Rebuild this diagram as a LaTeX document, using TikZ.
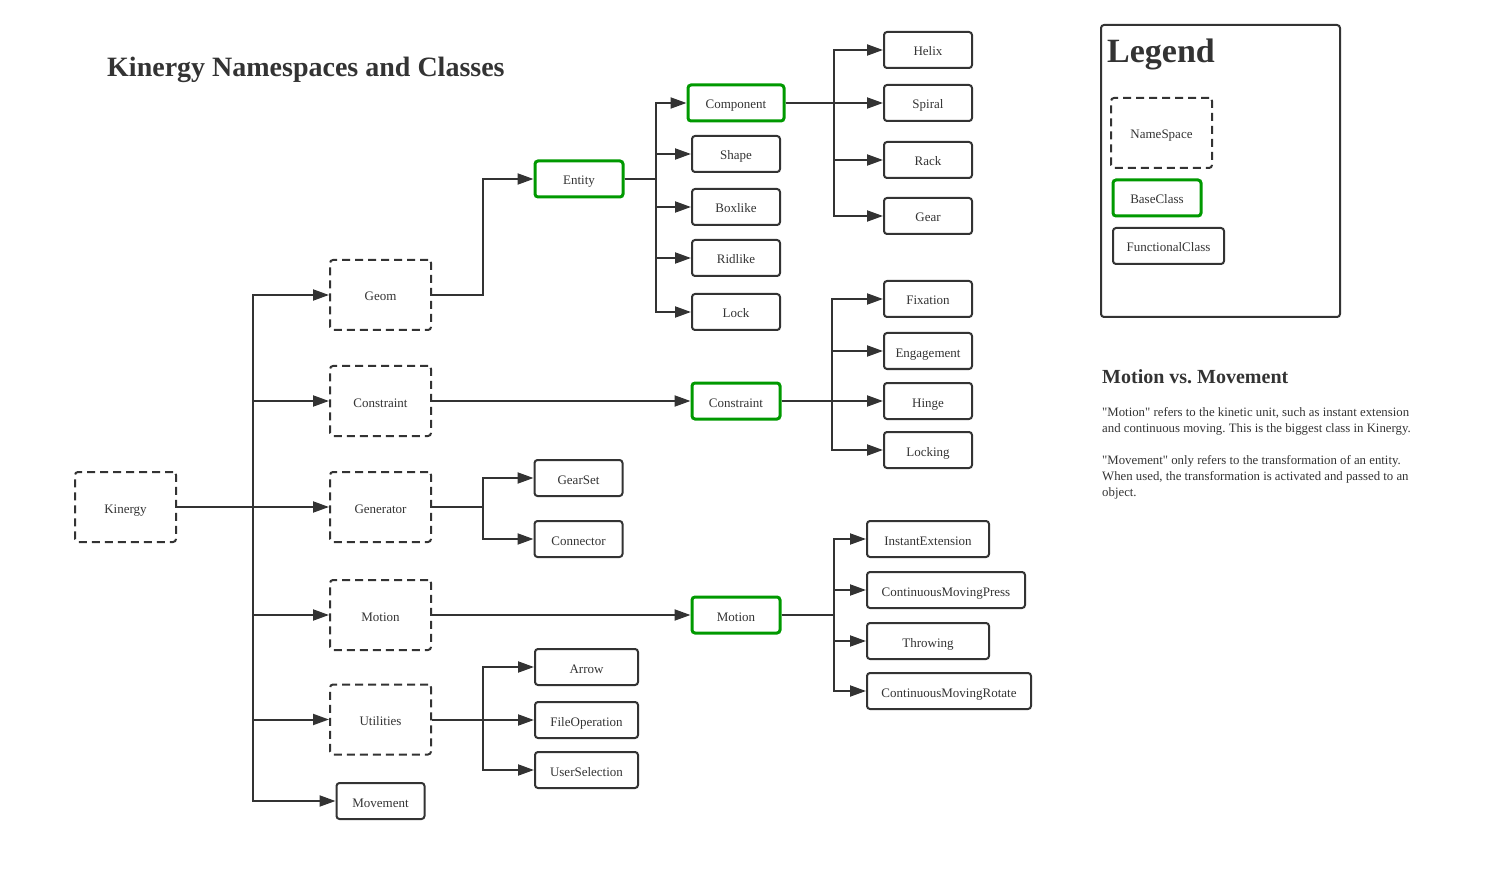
\documentclass[tikz,border=0pt]{standalone}
\usepackage{fontspec}
\setmainfont{Liberation Serif}
\newfontfamily\notefont{Liberation Serif}
\usepackage{tikz}
\usetikzlibrary{arrows.meta}
\usetikzlibrary{positioning,calc}
\definecolor{uidark}{RGB}{51,51,51}
\definecolor{uigreen}{RGB}{0,153,0}
\tikzstyle{classbox} = [draw=uidark, line width=2pt, rounded corners=3pt, text=uidark, font=\fontsize{13}{15}\selectfont, minimum width=88pt, minimum height=36pt, inner xsep=10pt, text height=12pt, text depth=0pt]
\tikzstyle{baseclass} = [classbox, draw=uigreen, line width=3pt]
\tikzstyle{namespace} = [classbox, dash pattern=on 8pt off 5pt, minimum width=101pt, minimum height=70pt]
\tikzstyle{arrow_tree} = [-{Triangle[length=16pt,width=11pt]}, draw=uidark, line width=2pt]
\tikzstyle{heading} = [anchor=base west, inner sep=0pt, text=uidark, font=\bfseries]
\tikzstyle{note} = [anchor=base west, inner sep=0pt, text=uidark, align=left, font=\notefont\fontsize{12.8}{16}\selectfont]

\begin{document}
\frenchspacing
\begin{tikzpicture}[x=1pt, y=-1pt]
      \useasboundingbox (0,0) rectangle (1504,874);

      % Title
      \node[heading, font=\bfseries\fontsize{28}{32}\selectfont] (title) at (107,77) {Kinergy Namespaces and Classes};

      % Namespaces
      \node[namespace] (kinergy)       at (125.5,507) {Kinergy};
      \node[namespace] (geom)          at (380.5,295) {Geom};
      \node[namespace] (constraint_ns) at (380.5,401) {Constraint};
      \node[namespace] (generator)     at (380.5,507) {Generator};
      \node[namespace] (motion_ns)     at (380.5,615) {Motion};
      \node[namespace] (utilities)     at (380.5,719.5) {Utilities};
      \node[classbox]  (movement)      at (380.5,801) {Movement};

      % Classes
      \node[baseclass] (entity)         at (579,179) {Entity};
      \node[classbox]  (gearset)        at (578.5,478) {GearSet};
      \node[classbox]  (connector)      at (578.5,539) {Connector};
      \node[classbox, minimum width=103pt] (arrow)   at (586.5,667) {Arrow};
      \node[classbox, minimum width=103pt] (fileop)  at (586.5,720) {FileOperation};
      \node[classbox, minimum width=103pt] (usersel) at (586.5,770) {UserSelection};

      \node[baseclass, minimum width=96pt] (component) at (736,103) {Component};
      \node[classbox] (shape)   at (736,154) {Shape};
      \node[classbox] (boxlike) at (736,207) {Boxlike};
      \node[classbox] (ridlike) at (736,258) {Ridlike};
      \node[classbox] (lock)    at (736,312) {Lock};
      \node[baseclass] (constraint_cls) at (736,401) {Constraint};
      \node[baseclass] (motion_cls)     at (736,615) {Motion};

      \node[classbox] (helix)  at (928,50)  {Helix};
      \node[classbox] (spiral) at (928,103) {Spiral};
      \node[classbox] (rack)   at (928,160) {Rack};
      \node[classbox] (gear)   at (928,216) {Gear};

      \node[classbox] (fixation)   at (928,299) {Fixation};
      \node[classbox] (engagement) at (928,351) {Engagement};
      \node[classbox] (hinge)      at (928,401) {Hinge};
      \node[classbox] (locking)    at (928,450) {Locking};

      \node[classbox, minimum width=122pt] (instant)  at (928,539) {InstantExtension};
      \node[classbox, minimum width=158pt] (cm_press) at (946,590) {ContinuousMovingPress};
      \node[classbox, minimum width=122pt] (throwing) at (928,641) {Throwing};
      \node[classbox, minimum width=164pt] (cm_rotate) at (949,691) {ContinuousMovingRotate};

      % Bus points
      \coordinate (kinergy_bus)    at (253,507);
      \coordinate (geom_bus)       at (483,295);
      \coordinate (generator_bus)  at (483,507);
      \coordinate (utilities_bus)  at (483,719.5);
      \coordinate (entity_bus)     at (656,179);
      \coordinate (component_bus)  at (834,103);
      \coordinate (constraint_bus) at (832,401);
      \coordinate (motion_bus)     at (834,615);

      % Kinergy arrows
      \foreach \child in {geom,constraint_ns,generator,motion_ns,utilities,movement}
        \path[arrow_tree] (kinergy.east) -- (kinergy_bus) |- (\child.west);

      % Namespace arrows
      \path[arrow_tree] (geom.east) -- (geom_bus) |- (entity.west);
      \path[arrow_tree] (constraint_ns) -- (constraint_cls);
      \path[arrow_tree] (motion_ns) -- (motion_cls);
      \foreach \child in {gearset,connector}
        \path[arrow_tree] (generator.east) -- (generator_bus) |- (\child.west);
      \foreach \child in {arrow,fileop,usersel}
        \path[arrow_tree] (utilities.east) -- (utilities_bus) |- (\child.west);

      % Class arrows
      \foreach \child in {component,shape,boxlike,ridlike,lock}
        \path[arrow_tree] (entity.east) -- (entity_bus) |- (\child.west);
      \foreach \child in {helix,spiral,rack,gear}
        \path[arrow_tree] (component.east) -- (component_bus) |- (\child.west);
      \foreach \child in {fixation,engagement,hinge,locking}
        \path[arrow_tree] (constraint_cls.east) -- (constraint_bus) |- (\child.west);
      \foreach \child in {instant,cm_press,throwing,cm_rotate}
        \path[arrow_tree] (motion_cls.east) -- (motion_bus) |- (\child.west);

      % Legend
      \draw[draw=uidark, line width=2pt, rounded corners=3pt] (1101,25) rectangle (1340,317);
      \node[heading, font=\bfseries\fontsize{34}{38}\selectfont] (legend) at (1107,63) {Legend};
      \node[namespace] (lg_namespace) at (1161.5,133) {NameSpace};
      \node[baseclass] (lg_baseclass) at (1157,198) {BaseClass};
      \node[classbox, minimum width=111pt] (lg_funcclass) at (1168.5,246) {FunctionalClass};

      % Motion vs. Movement
      \node[heading, font=\bfseries\fontsize{20}{24}\selectfont] (mvm) at (1102,383) {Motion vs. Movement};
      \node[note] (mvm_motion) at (1102,432) {"Motion" refers to the kinetic unit, such as instant extension\\and continuous moving. This is the biggest class in Kinergy.};
      \node[note] (mvm_movement) at (1102,496) {"Movement" only refers to the transformation of an entity.\\When used, the transformation is activated and passed to an\\object.};

    \end{tikzpicture}
\end{document}
